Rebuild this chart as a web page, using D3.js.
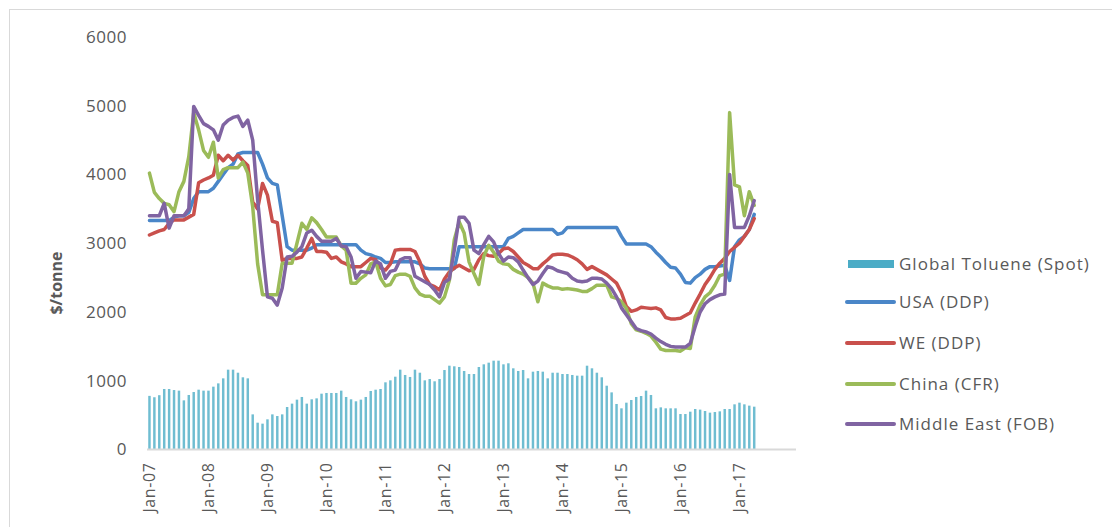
<!DOCTYPE html>
<html>
<head>
<meta charset="utf-8">
<script src="https://cdn.jsdelivr.net/npm/d3@7"></script>
<style>
  body { margin: 0; background: #ffffff; }
  svg { display: block; font-family: "Open Sans", "Liberation Sans", sans-serif; }
</style>
</head>
<body>
<svg id="chart_svg" width="1112" height="527"></svg>
<script>
/**
 * Monthly values, Jan-07 .. Apr-17 ($/tonne)
 */
const spot = [
  780, 760, 790, 880, 880, 865, 856, 715, 793, 836, 870, 856,
  856, 914, 962, 1035, 1161, 1161, 1117, 1050, 1035, 511, 390, 376,
  439, 511, 487, 511, 618, 667, 725, 764, 667, 730, 744, 812,
  822, 822, 822, 856, 764, 730, 701, 725, 764, 851, 870, 880,
  977, 1006, 1059, 1161, 1084, 1055, 1161, 1117, 1006, 1025, 992, 1025,
  1156, 1219, 1210, 1200, 1142, 1098, 1098, 1200, 1239, 1263, 1292, 1292,
  1239, 1254, 1181, 1142, 1156, 1035, 1132, 1142, 1132, 1035, 1117, 1117,
  1098, 1098, 1084, 1074, 1074, 1219, 1181, 1117, 1050, 928, 831, 662,
  599, 681, 720, 764, 778, 856, 793, 599, 613, 599, 599, 599,
  516, 516, 550, 589, 580, 560, 536, 545, 555, 589, 589, 657,
  681, 657, 638, 623
]

const usa = [
  3330, 3330, 3330, 3330, 3330, 3380, 3400, 3400, 3450, 3650, 3750, 3750,
  3750, 3800, 3900, 4000, 4100, 4150, 4300, 4320, 4320, 4320, 4320, 4150,
  3950, 3870, 3850, 3400, 2950, 2900, 2900, 2900, 2900, 2930, 2980, 2980,
  2980, 2980, 2980, 2980, 2980, 2980, 2980, 2900, 2850, 2830, 2800, 2780,
  2720, 2720, 2730, 2730, 2730, 2730, 2730, 2700, 2640, 2630, 2630, 2630,
  2630, 2630, 2630, 2950, 2950, 2950, 2950, 2950, 2950, 2950, 2950, 2950,
  2950, 3070, 3100, 3150, 3200, 3200, 3200, 3200, 3200, 3200, 3200, 3130,
  3150, 3230, 3230, 3230, 3230, 3230, 3230, 3230, 3230, 3230, 3230, 3230,
  3100, 2990, 2990, 2990, 2990, 2990, 2950, 2870, 2800, 2720, 2650, 2640,
  2550, 2430, 2420, 2500, 2550, 2620, 2660, 2660, 2670, 2680, 2460, 2950,
  3050, 3100, 3200, 3420
]

const we = [
  3120, 3150, 3180, 3200, 3290, 3340, 3340, 3340, 3380, 3420, 3880, 3920,
  3950, 3990, 4280, 4200, 4280, 4210, 4280, 4200, 4130, 3600, 3500, 3870,
  3700, 3320, 3300, 2750, 2780, 2780, 2780, 2800, 2930, 3070, 2880, 2880,
  2870, 2780, 2800, 2730, 2700, 2660, 2660, 2660, 2720, 2780, 2760, 2640,
  2610, 2700, 2900, 2910, 2910, 2910, 2880, 2730, 2520, 2400, 2370, 2320,
  2480, 2580, 2640, 2680, 2640, 2600, 2620, 2760, 2850, 2820, 2810, 2850,
  2920, 2930, 2880, 2800, 2720, 2680, 2630, 2630, 2700, 2760, 2830, 2840,
  2840, 2830, 2800, 2760, 2700, 2620, 2660, 2620, 2580, 2540, 2480, 2420,
  2280, 2080, 2010, 2030, 2070, 2060, 2050, 2060, 2030, 1920, 1900, 1900,
  1910, 1950, 1990, 2130, 2260, 2400, 2500, 2620, 2710, 2780, 2880, 2940,
  3000, 3100, 3200, 3360
]

const china = [
  4020, 3740, 3650, 3580, 3560, 3460, 3750, 3900, 4260, 4900, 4650, 4350,
  4250, 4470, 3950, 4070, 4100, 4100, 4100, 4180, 4020, 3530, 2700, 2250,
  2250, 2250, 2250, 2710, 2710, 2710, 3000, 3290, 3200, 3370, 3300, 3200,
  3090, 3090, 3090, 2960, 2900, 2420, 2420, 2490, 2540, 2700, 2730, 2490,
  2380, 2400, 2530, 2550, 2550, 2520, 2350, 2260, 2230, 2230, 2180, 2130,
  2220, 2460, 3050, 3310, 3150, 2730, 2560, 2400, 2810, 2970, 2870, 2740,
  2700, 2690, 2620, 2580, 2550, 2500, 2420, 2150, 2420, 2380, 2350, 2350,
  2330, 2340, 2330, 2320, 2300, 2300, 2340, 2390, 2390, 2390, 2220, 2200,
  2150, 2050, 1830, 1740, 1720, 1690, 1650, 1560, 1460, 1440, 1440, 1440,
  1430, 1480, 1470, 1930, 2100, 2220, 2280, 2390, 2530, 2550, 4900, 3850,
  3820, 3400, 3750, 3550
]

const middleEast = [
  3400, 3400, 3400, 3580, 3220, 3400, 3400, 3400, 3500, 4990, 4860, 4740,
  4700, 4650, 4500, 4720, 4790, 4830, 4850, 4700, 4790, 4500, 3630, 2900,
  2220, 2200, 2100, 2350, 2800, 2810, 2870, 2950, 3150, 3190, 3100, 3030,
  3030, 3030, 3070, 2960, 2950, 2800, 2490, 2590, 2580, 2570, 2740, 2700,
  2490, 2590, 2610, 2760, 2790, 2790, 2520, 2480, 2440, 2400, 2320, 2220,
  2430, 2480, 2900, 3380, 3380, 3290, 2900, 2850, 2980, 3100, 3020, 2850,
  2740, 2800, 2790, 2730, 2610, 2500, 2400, 2450, 2560, 2660, 2640, 2600,
  2580, 2560, 2490, 2450, 2440, 2450, 2490, 2490, 2480, 2420, 2340, 2220,
  2060, 1960, 1860, 1760, 1730, 1710, 1680, 1620, 1570, 1530, 1500, 1490,
  1490, 1490, 1545, 1790, 2000, 2120, 2180, 2220, 2250, 2260, 4000, 3230,
  3230, 3230, 3400, 3620
]

const yTicks = [0, 1000, 2000, 3000, 4000, 5000, 6000]
const tickLabels = ["Jan-07", "Jan-08", "Jan-09", "Jan-10", "Jan-11", "Jan-12",
  "Jan-13", "Jan-14", "Jan-15", "Jan-16", "Jan-17"]
const monthNames = ["Jan", "Feb", "Mar", "Apr", "May", "Jun", "Jul", "Aug", "Sep", "Oct", "Nov", "Dec"]
const years = ["07", "08", "09", "10", "11", "12", "13", "14", "15", "16", "17"]

const seriesNames = ["Global Toluene (Spot)", "USA (DDP)", "WE (DDP)", "China (CFR)", "Middle East (FOB)"]
const seriesColors = ["#4bacc6", "#4a86c8", "#c9504c", "#9bbb59", "#8064a2"]

// category axis runs over whole years, so the last months stay empty
const months = []
years.forEach(y => monthNames.forEach(m => months.push(m + "-" + y)))

/**
 * Layout
 */
const plot = { left: 147, right: 796, top: 37, bottom: 449.5 }

let svg = d3.select("#chart_svg")

svg.append("rect")
  .attr("x", 9.5)
  .attr("y", 9.5)
  .attr("width", 1120)
  .attr("height", 540)
  .attr("fill", "none")
  .attr("stroke", "#d9d9d9")

const xScale = d3.scaleBand()
  .domain(months)
  .range([plot.left, plot.right])
  .paddingInner(0.5)
  .paddingOuter(0.25)

const yScale = d3.scaleLinear()
  .domain([0, 6000])
  .range([plot.bottom, plot.top])

/**
 * y axis: labels only
 */
let g_y = svg.append("g")
  .attr("transform", "translate(" + (plot.left - 20) + ",0)")
  .call(d3.axisLeft(yScale).tickValues(yTicks).tickSize(0).tickPadding(0).tickFormat(d3.format("d")))

g_y.select(".domain").remove()
g_y.selectAll("text")
  .attr("font-family", "Open Sans")
  .attr("font-size", 17)
  .attr("letter-spacing", 0.5)
  .attr("fill", "#595959")

svg.append("text")
  .attr("transform", "translate(62,283) rotate(-90)")
  .attr("text-anchor", "middle")
  .attr("font-size", 16)
  .attr("font-weight", "bold")
  .attr("fill", "#595959")
  .text("$/tonne")

/**
 * bars (spot)
 */
svg.append("g")
  .selectAll(".bar")
  .data(spot)
  .enter()
  .append("rect")
  .attr("class", "bar")
  .attr("x", (d, i) => xScale(months[i]))
  .attr("width", xScale.bandwidth())
  .attr("y", d => yScale(d))
  .attr("height", d => yScale(0) - yScale(d))
  .attr("fill", seriesColors[0])
  .attr("opacity", 0.8)

/**
 * x axis
 */
let x_axis = d3.axisBottom(xScale)
  .tickValues(tickLabels)
  .tickSize(0)
  .tickPadding(0)

let g_x = svg.append("g")
  .attr("transform", "translate(0," + plot.bottom + ")")
  .call(x_axis)

g_x.select(".domain")
  .attr("stroke", "#d9d9d9")
  .attr("stroke-width", 2)
  .attr("d", "M" + plot.left + ",0H" + plot.right)

g_x.selectAll("text")
  .attr("font-family", "Open Sans")
  .attr("font-size", 16)
  .attr("letter-spacing", 0.6)
  .attr("fill", "#595959")
  .attr("text-anchor", "end")
  .attr("transform", "rotate(-90)")
  .attr("x", -13)
  .attr("y", 0)
  .attr("dy", "0.35em")

/**
 * lines
 */
const lineData = [usa, we, china, middleEast]

const line = d3.line()
  .x((d, i) => xScale(months[i]) + xScale.bandwidth() / 2)
  .y(d => yScale(d))

svg.append("g")
  .selectAll(".series")
  .data(lineData)
  .enter()
  .append("path")
  .attr("class", "series")
  .attr("d", d => line(d))
  .attr("fill", "none")
  .attr("stroke", (d, i) => seriesColors[i + 1])
  .attr("stroke-width", 3.5)
  .attr("stroke-linejoin", "round")
  .attr("stroke-linecap", "round")

/**
 * legend
 */
const legendY = [264, 302, 343, 384, 424]

let legend = svg.append("g")
  .selectAll(".legend_item")
  .data(seriesNames)
  .enter()
  .append("g")
  .attr("class", "legend_item")
  .attr("transform", (d, i) => "translate(847," + legendY[i] + ")")

legend.each(function (d, i) {
  const g = d3.select(this)
  if (i === 0) {
    g.append("rect")
      .attr("x", 1)
      .attr("y", -4)
      .attr("width", 46)
      .attr("height", 8)
      .attr("fill", seriesColors[0])
  } else {
    g.append("line")
      .attr("x1", 0)
      .attr("x2", 47)
      .attr("stroke", seriesColors[i])
      .attr("stroke-width", 4)
      .attr("stroke-linecap", "round")
  }
  g.append("text")
    .attr("x", 52)
    .attr("dy", "0.35em")
    .attr("font-size", 17)
    .attr("letter-spacing", 1)
    .attr("fill", "#595959")
    .text(d)
})
</script>
</body>
</html>
